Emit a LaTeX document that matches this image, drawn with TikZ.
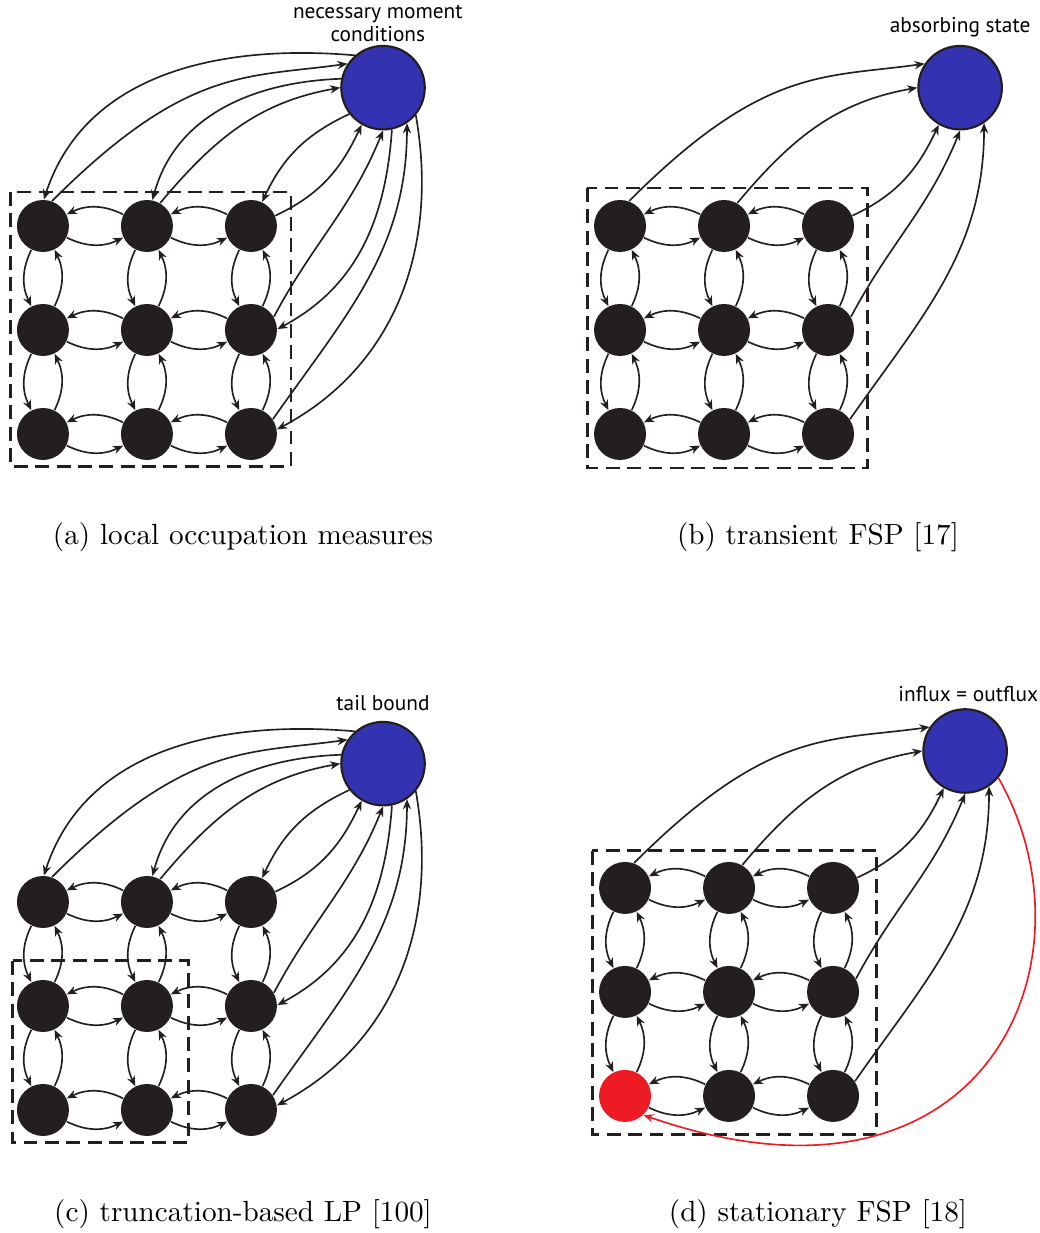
\documentclass[tikz,border=0pt]{standalone}
\usepackage{fontspec}
\usepackage{tikz}
\usetikzlibrary{arrows.meta,positioning}
\newfontfamily\tagfont{PT Sans}

\definecolor{colorState}{RGB}{35,31,32}
\definecolor{colorBound}{RGB}{51,51,178}
\definecolor{colorSink}{RGB}{237,28,36}

\tikzset{
   every path/.style={>={Stealth[length=3.8pt,width=3.1pt]}},
   state/.style={circle, fill=colorState, inner sep=0pt, minimum size=0.685cm},
   ext/.style={circle, fill=colorBound, draw=colorState, line width=0.8pt, inner sep=0pt, minimum size=1.1cm},
   trans/.style={->, draw=colorState, line width=0.62pt},
   reset/.style={->, draw=colorSink, line width=0.62pt},
   frame/.style={draw=colorState, line width=1.1pt, dash pattern=on 5.2pt off 2.8pt},
   tag/.style={font=\tagfont\fontsize{8}{8.6}\selectfont, inner sep=0pt, align=center},
   caption/.style={anchor=base, inner sep=0pt, font=\fontsize{10.95}{13}\selectfont},
}

% 3x3 grid of states, neighbours linked both ways
\newcommand{\chaingrid}[2]{%
  \foreach \i/\j in {0/0,1/0,2/0,0/1,1/1,2/1,1/2,2/2}
    \node[state] (#1-\i-\j) at (\i,-\j) {};
  \node[state, fill=#2] (#1-0-2) at (0,-2) {};
  \foreach \i/\k in {0/1,1/2} {
    \foreach \j in {0,1,2} {
      \draw[trans] (#1-\i-\j) to[bend right=26] (#1-\k-\j);
      \draw[trans] (#1-\k-\j) to[bend right=26] (#1-\i-\j);
      \draw[trans] (#1-\j-\i) to[bend right=26] (#1-\j-\k);
      \draw[trans] (#1-\j-\k) to[bend right=26] (#1-\j-\i);
    }
  }
}

% border states -> extra state
\newcommand{\outflow}[1]{%
  \draw[trans] (#1-0-0.70) to[out=45,in=188,out looseness=1.5,in looseness=0.8] (#1-ext.146);
  \draw[trans] (#1-1-0.60) to[out=50,in=190] (#1-ext.180);
  \draw[trans] (#1-2-0.23) to[out=25,in=245] (#1-ext.240);
  \draw[trans] (#1-2-1.30) to[out=62,in=248] (#1-ext.270);
  \draw[trans] (#1-2-2.34) to[out=55,in=270] (#1-ext.304);
}

% extra state -> border states
\newcommand{\inflow}[1]{%
  \draw[trans] (#1-ext.131) to[out=175,in=72] (#1-0-0.88);
  \draw[trans] (#1-ext.168) to[out=182,in=75] (#1-1-0.78);
  \draw[trans] (#1-ext.218) to[out=205,in=65] (#1-2-0.65);
  \draw[trans] (#1-ext.282) to[out=266,in=28] (#1-2-1.2);
  \draw[trans] (#1-ext.320) to[out=280,in=28] (#1-2-2.10);
}

\begin{document}
\begin{tikzpicture}[x=1.37cm, y=1.37cm]
  \useasboundingbox (0,0) rectangle (10,-11.856);

  % (a)
  \begin{scope}[shift={(0.413,-2.173)}]
    \draw[frame] (-0.31,0.327) rectangle (2.385,-2.31);
    \chaingrid{a}{colorState}
    \node[ext] (a-ext) at (3.27,1.33) {};
    \node[tag, anchor=south] (a-tag) at (3.22,1.77) {necessary moment\\conditions};
    \outflow{a}
    \inflow{a}
  \end{scope}
  \node[caption] (a-cap) at (2.337,-5.24) {(a) local occupation measures};

  % (b)
  \begin{scope}[shift={(5.962,-2.173)}]
    \draw[frame] (-0.317,0.365) rectangle (2.375,-2.327);
    \chaingrid{b}{colorState}
    \node[ext] (b-ext) at (3.27,1.33) {};
    \node[tag, anchor=base] (b-tag) at (3.27,1.856) {absorbing state};
    \outflow{b}
  \end{scope}
  \node[caption] (b-cap) at (7.865,-5.24) {(b) transient FSP [17]};

  % (c)
  \begin{scope}[shift={(0.413,-8.673)}]
    \draw[frame] (-0.29,-0.567) rectangle (1.40,-2.31);
    \chaingrid{c}{colorState}
    \node[ext] (c-ext) at (3.27,1.33) {};
    \node[tag, anchor=base] (c-tag) at (3.27,1.846) {tail bound};
    \outflow{c}
    \inflow{c}
  \end{scope}
  \node[caption] (c-cap) at (2.337,-11.75) {(c) truncation-based LP [100]};

  % (d)
  \begin{scope}[shift={(6.010,-8.538)}]
    \draw[frame] (-0.317,0.356) rectangle (2.42,-2.375);
    \chaingrid{d}{colorSink}
    \node[ext] (d-ext) at (3.27,1.317) {};
    \node[tag, anchor=base] (d-tag) at (3.30,1.788) {influx = outflux};
    \outflow{d}
    \draw[reset] (d-ext.-39) .. controls +(1.0,-1.75) and +(3.3,-1.15) .. (d-0-2.-46);
  \end{scope}
  \node[caption] (d-cap) at (7.865,-11.75) {(d) stationary FSP [18]};
\end{tikzpicture}
\end{document}
